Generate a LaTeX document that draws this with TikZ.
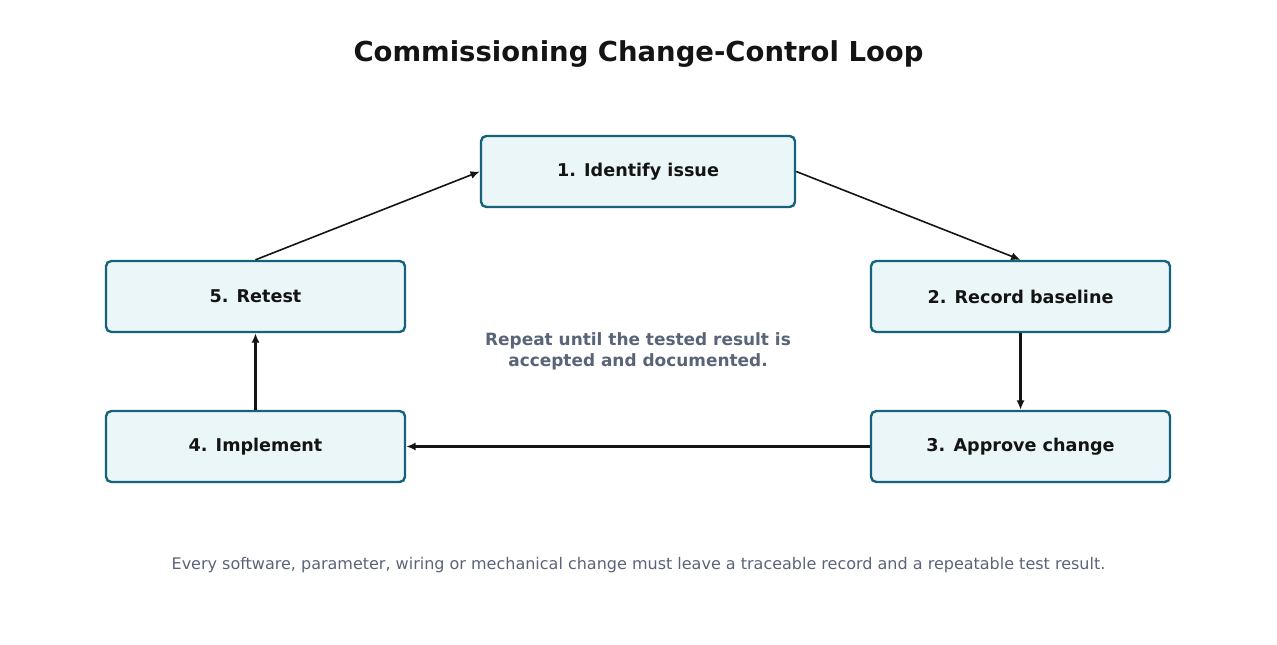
\documentclass[tikz,border=0pt]{standalone}
\usepackage{fontspec}
\setmainfont{DejaVu Sans}
\usetikzlibrary{arrows.meta}
\definecolor{boxline}{HTML}{14637A}
\definecolor{boxfill}{HTML}{EBF6F8}
\definecolor{notegray}{HTML}{5A6478}
\definecolor{inkdark}{HTML}{141414}
\tikzset{
  stage/.style={draw=boxline, fill=boxfill, line width=1.8pt, rounded corners=4pt,
    minimum width=299*0.75pt, minimum height=71*0.75pt, inner sep=0pt,
    font=\bfseries\fontsize{13.2pt}{16pt}\selectfont, text=inkdark},
  flow/.style={draw=inkdark, line width=2pt, -{Latex[length=7pt,width=6pt]}},
  slant/.style={draw=inkdark, line width=1.2pt, -{Latex[length=7pt,width=6pt]}}
}
\begin{document}
\begin{tikzpicture}[x=0.75pt,y=0.75pt,yscale=-1,xscale=1]
\useasboundingbox (0,0) rectangle (1277,645);

% Title
\node (title) at (638.5,54) {\bfseries\fontsize{20.6pt}{25pt}\selectfont\color{inkdark}Commissioning Change-Control Loop};

% Steps
\node [stage, minimum width=314*0.75pt] (identify) at (638,171.5) {1. Identify issue};
\node [stage] (baseline) at (1020.5,296.5) {2. Record baseline};
\node [stage] (approve) at (1020.5,446.5) {3. Approve change};
\node [stage] (implement) at (255.5,446.5) {4. Implement};
\node [stage] (retest) at (255.5,296.5) {5. Retest};

% Connectors
\draw [slant] (identify.east) -- (baseline.north);
\draw [flow] (baseline.south) -- (approve.north);
\draw [flow] (approve.west) -- (implement.east);
\draw [flow] (implement.north) -- (retest.south);
\draw [slant] (retest.north) -- (identify.west);

% Notes
\node [align=center, text=notegray, font=\bfseries\fontsize{12.7pt}{15.5pt}\selectfont] (repeat) at (638,351.5)
  {Repeat until the tested result is\\accepted and documented.};
\node [text=notegray, font=\fontsize{12pt}{14pt}\selectfont] (footer) at (638.5,565.5)
  {Every software, parameter, wiring or mechanical change must leave a traceable record and a repeatable test result.};
\end{tikzpicture}
\end{document}
